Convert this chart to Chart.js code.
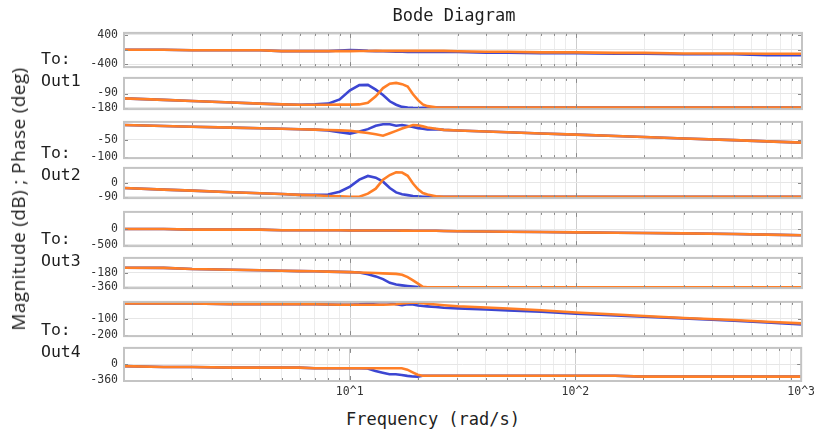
<!DOCTYPE html>
<html lang="en">
<head>
<meta charset="UTF-8">
<title>Bode Diagram</title>
<script src="https://cdn.jsdelivr.net/npm/chart.js"></script>
<style>
  body { margin: 0; background: #fff; }
  #wrap { position: relative; width: 819px; height: 433px; overflow: hidden; color: #1e1e1e; }
  canvas { position: absolute; left: 0; }
  .txt { position: absolute; white-space: nowrap; font-family: "DejaVu Sans Mono", monospace; z-index: 2; }
  #title { left: 454px; top: 15px; font-size: 17px; transform: translate(-50%, -50%); }
  #xtitle { left: 433px; top: 419px; font-size: 17px; transform: translate(-50%, -50%); }
  #ytitle { left: 18px; top: 199px; font-family: "Open Sans", sans-serif; font-size: 19px; letter-spacing: 0.4px;
            transform: translate(-50%, -50%) rotate(-90deg); }
  .row { left: 41px; font-size: 16.5px; line-height: 22px; }
</style>
</head>
<body>
<div id="wrap">
  <div class="txt" id="title">Bode Diagram</div>
  <div class="txt" id="ytitle">Magnitude (dB) ; Phase (deg)</div>
  <div class="txt" id="xtitle">Frequency (rad/s)</div>
  <div class="txt row" style="top:48px">To:<br>Out1</div>
  <div class="txt row" style="top:142px">To:<br>Out2</div>
  <div class="txt row" style="top:228px">To:<br>Out3</div>
  <div class="txt row" style="top:319px">To:<br>Out4</div>
</div>

<script>
// frequency grid (rad/s)
const freq = [1, 1.5, 2, 3, 4, 5, 6, 7, 8, 9, 10, 11, 12, 13, 14, 15, 16, 17, 18, 19, 20,
              21, 22, 24, 26, 30, 40, 50, 70, 100, 150, 200, 300, 500, 700, 1000];

// system A (blue) and system B (orange) responses
const magOut1A = [-5, -5, -19, -19, -19, -42, -42, -42, -42, -25, -12, -20, -35, -40, -45, -50, -55, -60, -66, -66,
                  -66, -66, -66, -66, -66, -66, -81, -81, -97, -97, -112, -112, -128, -128, -151, -151];
const magOut1B = [-5, -5, -19, -19, -19, -42, -42, -42, -42, -42, -40, -38, -36, -35, -35, -35, -35, -35, -35, -35,
                  -35, -35, -35, -35, -35, -45, -58, -58, -74, -74, -89, -89, -105, -105, -112, -112];

const phaseOut1A = [-121, -131, -138, -148, -155, -160, -162, -160, -155, -128, -70, -36, -35, -65, -100, -140, -162, -176, -180, -182,
                    -183, -182, -181, -180, -180, -180, -180, -180, -180, -180, -180, -180, -180, -180, -180, -180];
const phaseOut1B = [-121, -131, -138, -148, -155, -160, -162, -162, -162, -161, -161, -160, -150, -108, -55, -27, -22, -30, -45, -95,
                    -133, -160, -171, -178, -180, -180, -180, -180, -180, -180, -180, -180, -180, -180, -180, -180];

const magOut2A = [-7, -10, -12, -14.5, -16.5, -18, -19.5, -20.5, -23, -28, -32, -26, -19, -9, -5, -5, -9, -7, -10, -13,
                  -16, -18, -20, -19, -21, -23, -26, -28, -31.5, -35, -39, -42, -46, -51, -54.5, -58];
const magOut2B = [-7, -10, -12, -14.5, -16.5, -18, -19.5, -20.5, -21.5, -22.5, -23.5, -27, -30, -34, -38, -31, -24, -17, -12, -7,
                  -8, -11, -14, -18, -21, -23, -26, -28, -31.5, -35, -39, -42, -46, -51, -54.5, -58];

const phaseOut2A = [-34, -44, -51, -61, -68, -73, -78, -78, -76, -58, -25, 20, 44, 33, 7, -34, -62, -74, -80, -85,
                    -88, -90, -90, -90, -90, -90, -90, -90, -90, -90, -90, -90, -90, -90, -90, -90];
const phaseOut2B = [-34, -44, -51, -61, -68, -73, -78, -81, -85, -88, -90, -90, -70, -38, 20, 50, 68, 66, 45, -5,
                    -42, -66, -76, -87, -90, -90, -90, -90, -90, -90, -90, -90, -90, -90, -90, -90];

const magOut3A = [0, 0, -19, -19, -19, -38, -38, -38, -38, -38, -46, -46, -46, -48, -48, -50, -50, -52, -52, -54,
                  -54, -55, -55, -58, -62, -73, -80, -88, -98, -108, -118, -127, -140, -160, -180, -200];
const magOut3B = [0, 0, -19, -19, -19, -38, -38, -38, -38, -38, -46, -46, -46, -48, -48, -50, -50, -52, -52, -54,
                  -54, -55, -55, -58, -62, -73, -80, -88, -98, -108, -118, -127, -140, -160, -180, -200];

const phaseOut3A = [-115, -116, -131, -140, -147, -152, -157, -160, -164, -167, -170, -175, -197, -225, -260, -308, -330, -340, -349, -356,
                    -362, -366, -366, -366, -366, -366, -366, -366, -366, -366, -366, -366, -366, -366, -366, -366];
const phaseOut3B = [-115, -116, -131, -140, -147, -152, -157, -160, -164, -167, -170, -175, -178, -182, -186, -189, -193, -205, -235, -275,
                    -318, -358, -365, -365, -365, -365, -365, -365, -365, -365, -365, -365, -365, -365, -365, -365];

const magOut4A = [-7, -7, -8, -12, -12, -12, -12, -12, -14, -15, -15, -13, -6, -2, 1, -2, -12, -18, -12, -14,
                  -20, -23, -25, -29, -33, -37, -44, -49, -58, -70, -80, -88, -98, -112, -122, -135];
const magOut4B = [-7, -7, -8, -12, -12, -12, -12, -12, -14, -15, -15, -15, -15, -15, -15, -14, -12, -8, -4, -2,
                  -3, -6, -9, -14, -18, -24, -32, -38, -49, -62, -74, -83, -95, -108, -118, -128];

const phaseOut4A = [-42, -62, -62, -75, -75, -75, -75, -89, -89, -89, -89, -89, -95, -150, -190, -225, -225, -240, -260, -275,
                    -277, -258, -256, -256, -256, -256, -256, -256, -256, -256, -256, -277, -277, -277, -277, -277];
const phaseOut4B = [-42, -62, -62, -75, -75, -75, -75, -89, -89, -89, -89, -89, -89, -89, -89, -89, -89, -89, -120, -180,
                    -235, -256, -256, -256, -256, -256, -256, -256, -256, -256, -256, -277, -277, -277, -277, -277];

// x tick labels (only the decades are labelled)
const decadeLabels = { 10: '10^1', 100: '10^2', 1000: '10^3' };

// one entry per subplot: series, y range, y ticks, labelled y ticks, plot top/bottom in page px
const panels = [
  { a: magOut1A,   b: magOut1B,   min: -476, max: 455, ticks: [-400, -200, 0, 200, 400], labels: [400, -400], top: 30,  bottom: 70 },
  { a: phaseOut1A, b: phaseOut1B, min: -190, max: 10,  ticks: [-180, -90],  labels: [-90, -180],  top: 75,  bottom: 112 },
  { a: magOut2A,   b: magOut2B,   min: -103, max: 2,   ticks: [-100, -50],  labels: [-50, -100],  top: 119, bottom: 161 },
  { a: phaseOut2A, b: phaseOut2B, min: -99,  max: 96,  ticks: [-90, 0],     labels: [0, -90],     top: 165, bottom: 201 },
  { a: magOut3A,   b: magOut3B,   min: -545, max: 545, ticks: [-500, 0],    labels: [0, -500],    top: 209, bottom: 249 },
  { a: phaseOut3A, b: phaseOut3B, min: -375, max: 12,  ticks: [-360, -180], labels: [-180, -360], top: 255, bottom: 291 },
  { a: magOut4A,   b: magOut4B,   min: -205, max: 2,   ticks: [-200, -100], labels: [-100, -200], top: 299, bottom: 339 },
  { a: phaseOut4A, b: phaseOut4B, min: -375, max: 368, ticks: [-360, 0],    labels: [0, -360],    top: 345, bottom: 381 }
];

const BLUE = '#3c46d2';
const ORANGE = '#ff7f27';

const xTicks = [];
[1, 10, 100].forEach(d => { for (let k = 1; k < 10; k++) xTicks.push(d * k); });
xTicks.push(1000);
const isDecade = v => Math.abs(Math.log10(v) - Math.round(Math.log10(v))) < 1e-9;

// panel frame plus short inward tick marks
const framePlugin = {
  id: 'frame',
  afterDraw(chart) {
    const { ctx, chartArea: a, scales } = chart;
    ctx.save();
    ctx.strokeStyle = '#8a8a8a';
    ctx.lineWidth = 1;
    ctx.beginPath();
    scales.x.ticks.forEach(t => {
      const px = Math.round(scales.x.getPixelForValue(t.value)) + 0.5;
      const len = isDecade(t.value) ? 5 : 3;
      ctx.moveTo(px, a.top); ctx.lineTo(px, a.top + len);
      ctx.moveTo(px, a.bottom); ctx.lineTo(px, a.bottom - len);
    });
    scales.y.ticks.forEach(t => {
      const py = Math.round(scales.y.getPixelForValue(t.value)) + 0.5;
      ctx.moveTo(a.left, py); ctx.lineTo(a.left + 4, py);
      ctx.moveTo(a.right, py); ctx.lineTo(a.right - 4, py);
    });
    ctx.stroke();
    ctx.strokeStyle = '#c4c4c4';
    ctx.lineWidth = 2;
    ctx.strokeRect(a.left, a.top, a.right - a.left, a.bottom - a.top);
    ctx.restore();
  }
};

const wrap = document.getElementById('wrap');

panels.forEach((p, i) => {
  const last = i === panels.length - 1;
  const padTop = 10;
  const padBottom = last ? 0 : 10;
  const xAxisH = last ? 25 : 0;
  const canvas = document.createElement('canvas');
  canvas.width = 819;
  canvas.height = padTop + (p.bottom - p.top) + padBottom + xAxisH;
  canvas.style.top = (p.top - padTop) + 'px';
  wrap.appendChild(canvas);

  const pts = arr => freq.map((f, k) => ({ x: f, y: arr[k] }));

  new Chart(canvas.getContext('2d'), {
    type: 'line',
    data: {
      datasets: [
        { data: pts(p.b), borderColor: ORANGE, borderWidth: 2.6 },
        { data: pts(p.a), borderColor: BLUE, borderWidth: 2.6 }
      ]
    },
    options: {
      responsive: false,
      animation: false,
      events: [],
      elements: { point: { radius: 0 }, line: { tension: 0 } },
      layout: { padding: { left: 64, right: 17, top: padTop, bottom: padBottom } },
      plugins: { legend: { display: false }, tooltip: { enabled: false } },
      scales: {
        x: {
          type: 'logarithmic',
          min: 1,
          max: 1000,
          afterBuildTicks: s => { s.ticks = xTicks.map(v => ({ value: v })); },
          afterFit: s => { s.height = xAxisH; },
          border: { display: false },
          grid: {
            drawTicks: false,
            color: ctx => (ctx.tick && isDecade(ctx.tick.value)) ? '#cdcdcd' : '#ececec',
            lineWidth: 1
          },
          ticks: {
            display: last,
            autoSkip: false,
            maxRotation: 0,
            padding: 4,
            color: '#333',
            font: { family: 'DejaVu Sans Mono', size: 11.5 },
            callback: v => decadeLabels[v] || ''
          }
        },
        y: {
          min: p.min,
          max: p.max,
          afterBuildTicks: s => { s.ticks = p.ticks.map(v => ({ value: v })); },
          afterFit: s => { s.width = 60; },
          border: { display: false },
          grid: { drawTicks: false, color: '#e6e6e6' },
          ticks: {
            padding: 6,
            color: '#333',
            font: { family: 'DejaVu Sans Mono', size: 11.5 },
            callback: v => p.labels.includes(v) ? String(v) : ''
          }
        }
      }
    },
    plugins: [framePlugin]
  });
});
</script>
</body>
</html>
